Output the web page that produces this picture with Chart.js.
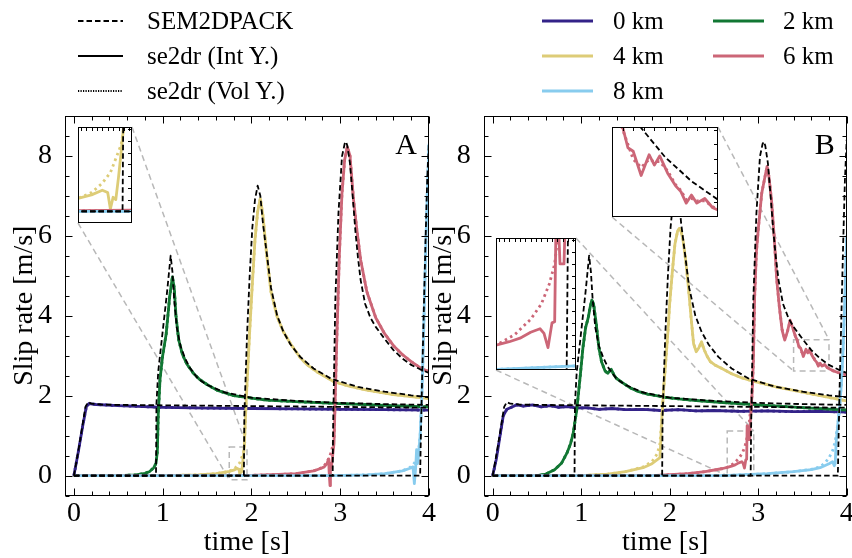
<!DOCTYPE html>
<html><head><meta charset="utf-8">
<script src="https://cdn.jsdelivr.net/npm/chart.js@4.4.1/dist/chart.umd.min.js"></script>
<style>
html,body{margin:0;padding:0;background:#fff;}
#fig{position:relative;width:852px;height:558px;overflow:hidden;background:#fff;font-family:"Liberation Serif",serif;}
.cv{position:absolute;}
.lg{position:absolute;line-height:28px;white-space:nowrap;color:#000;font-family:"Liberation Serif",serif;}
</style></head><body>
<div id="fig">
  <canvas id="mainA" class="cv" width="440" height="558" style="left:0;top:0"></canvas>
  <canvas id="mainB" class="cv" width="422" height="558" style="left:430px;top:0"></canvas>
  <canvas id="insA" class="cv" width="54" height="96" style="left:78px;top:127px"></canvas>
  <canvas id="insB1" class="cv" width="80" height="132" style="left:496px;top:238px"></canvas>
  <canvas id="insB2" class="cv" width="106" height="90" style="left:612px;top:127px"></canvas>
</div>
<script>
// ---------- labels / ticks ----------
const stationLabels = ['0 km','2 km','4 km','6 km','8 km'];
const stationColors = ['#332288','#117733','#DDCC77','#CC6677','#88CCEE'];
const methodLabels = ['SEM2DPACK','se2dr (Int Y.)','se2dr (Vol Y.)'];
const xTickLabels = [0,1,2,3,4];
const yTickLabels = [0,2,4,6,8];

// ---------- SEM2DPACK reference (same in both panels) ----------
const sem0_t = [0,0.05,0.1,0.13,0.16,0.2,0.3,0.5,1.0,1.5,2.0,2.5,3.0,3.5,4.0];
const sem0_v = [0,0.62,1.3,1.72,1.84,1.8,1.78,1.77,1.76,1.75,1.74,1.73,1.72,1.71,1.7];
const sem2_t = [0,0.925,0.93,0.95,1.0,1.05,1.09,1.11,1.13,1.16,1.2,1.25,1.3,1.4,1.5,1.7,2.0,2.5,3.0,3.5,4.0];
const sem2_v = [0,0,1.8,2.6,3.6,4.6,5.5,5.1,4.4,3.7,3.25,2.95,2.72,2.42,2.27,2.08,1.95,1.87,1.82,1.79,1.77];
const sem4_t = [0,1.915,1.92,1.95,1.98,2.01,2.04,2.07,2.1,2.13,2.17,2.22,2.29,2.36,2.44,2.55,2.7,2.9,3.2,3.5,3.8,4.0];
const sem4_v = [0,0,1.5,3.5,5.0,6.2,6.9,7.25,7.0,6.3,5.6,4.7,4.0,3.6,3.28,2.97,2.68,2.42,2.22,2.1,2.01,1.96];
const sem6_t = [0,2.915,2.92,2.945,2.98,3.02,3.05,3.066,3.08,3.11,3.14,3.17,3.2,3.23,3.28,3.34,3.4,3.5,3.6,3.7,3.8,3.9,4.0];
const sem6_v = [0,0,1.2,4.4,6.56,7.98,8.3,8.35,8.25,7.81,7.0,6.14,5.45,4.89,4.3,3.95,3.72,3.42,3.14,2.93,2.77,2.66,2.57];
const sem8_t = [0,3.9,3.905,3.92,3.94,3.96,3.98,4.0];
const sem8_v = [0,0,0.6,2.2,4.0,5.8,7.4,8.4];

// ---------- Panel A : se2dr ----------
const a0_t = [0,0.05,0.1,0.14,0.17,0.25,0.5,1.0,1.5,2.0,2.5,3.0,3.5,4.0];
const a0_v = [0,0.6,1.25,1.72,1.8,1.78,1.75,1.71,1.69,1.68,1.67,1.66,1.65,1.64];
const a2_t = [0,0.5,0.7,0.8,0.85,0.9,0.925,0.94,0.95,0.97,1.0,1.04,1.08,1.11,1.13,1.15,1.18,1.22,1.27,1.35,1.42,1.5,1.61,1.8,2.0,2.17,2.5,2.93,3.5,4.0];
const a2_v = [0,0,0.02,0.06,0.1,0.2,0.31,0.6,1.5,2.4,3.0,3.55,4.5,4.97,4.7,4.0,3.4,3.05,2.8,2.55,2.4,2.28,2.14,2.0,1.94,1.89,1.85,1.81,1.76,1.72];
const a4_t = [0,1.0,1.4,1.6,1.75,1.8,1.84,1.86,1.87,1.88,1.89,1.9,1.91,1.92,1.93,1.95,1.98,2.01,2.04,2.07,2.1,2.13,2.17,2.22,2.29,2.36,2.44,2.55,2.63,2.75,2.93,3.1,3.3,3.6,4.0];
const a4_v = [0,0,0.02,0.05,0.11,0.14,0.18,0.16,0.02,0.12,0.1,0.29,0.51,0.75,1.3,2.3,3.6,4.8,5.9,6.6,6.93,6.5,5.56,4.6,3.97,3.6,3.3,2.95,2.77,2.58,2.35,2.24,2.14,2.03,1.93];
const a4vol_t = [0,1.0,1.4,1.6,1.75,1.8,1.84,1.87,1.89,1.91,1.92,1.93,1.95,1.98,2.01,2.04,2.07,2.1,2.13,2.17,2.22,2.29,2.36,2.44,2.55,2.63,2.75,2.93,3.1,3.3,3.6,4.0];
const a4vol_v = [0,0,0.02,0.05,0.11,0.16,0.24,0.33,0.45,0.57,0.72,1.3,2.3,3.6,4.8,5.9,6.6,6.93,6.5,5.56,4.6,3.97,3.6,3.3,2.95,2.77,2.58,2.35,2.24,2.14,2.03,1.93];
const a6_t = [0,1.5,2.0,2.3,2.5,2.7,2.78,2.82,2.85,2.87,2.875,2.885,2.89,2.9,2.93,2.96,2.99,3.02,3.05,3.08,3.11,3.15,3.19,3.23,3.3,3.4,3.5,3.6,3.7,3.8,3.9,4.0];
const a6_v = [0,0,0.01,0.03,0.05,0.12,0.18,0.22,0.3,0.42,0.1,-0.25,0.3,0.2,0.8,3.3,5.5,7.06,7.9,8.22,8.0,6.9,6.1,5.4,4.6,3.95,3.55,3.25,3.03,2.85,2.7,2.6];
const a6vol_t = [0,1.5,2.0,2.3,2.5,2.7,2.78,2.82,2.85,2.88,2.9,2.93,2.96,2.99,3.02,3.05,3.08,3.11,3.15,3.19,3.23,3.3,3.4,3.5,3.6,3.7,3.8,3.9,4.0];
const a6vol_v = [0,0,0.01,0.03,0.05,0.12,0.19,0.25,0.34,0.48,0.6,0.9,3.3,5.5,7.06,7.9,8.22,8.0,6.9,6.1,5.4,4.6,3.95,3.55,3.25,3.03,2.85,2.7,2.6];
const a8_t = [0,2.9,3.3,3.5,3.7,3.78,3.82,3.835,3.85,3.86,3.87,3.88,3.9,3.92,3.94,3.96,3.98,4.0];
const a8_v = [0,0,0.02,0.05,0.12,0.18,0.22,-0.2,0.2,0.65,0.3,0.45,1.0,2.0,3.6,5.4,7.0,8.3];
const a8vol_t = [0,2.9,3.3,3.5,3.7,3.78,3.82,3.85,3.88,3.9,3.92,3.94,3.96,3.98,4.0];
const a8vol_v = [0,0,0.02,0.05,0.12,0.2,0.27,0.36,0.55,1.0,2.0,3.6,5.4,7.0,8.3];

// ---------- Panel B : se2dr ----------
const b0_t = [0,0.04,0.08,0.12,0.16,0.2,0.27,0.35,0.45,0.55,0.65,0.75,0.85,0.95,1.05,1.2,1.35,1.5,1.7,1.9,2.1,2.3,2.5,2.8,3.1,3.4,3.7,4.0];
const b0_v = [0,0.4,0.95,1.5,1.66,1.7,1.77,1.74,1.77,1.72,1.75,1.71,1.73,1.69,1.7,1.66,1.68,1.65,1.66,1.63,1.65,1.62,1.63,1.61,1.62,1.6,1.61,1.59];
const b2_t = [0,0.5,0.6,0.7,0.78,0.84,0.88,0.91,0.95,0.99,1.02,1.05,1.08,1.1,1.12,1.14,1.17,1.2,1.23,1.27,1.3,1.34,1.37,1.4,1.47,1.55,1.65,1.75,1.85,1.95,2.1,2.3,2.6,3.0,3.5,4.0];
const b2_v = [0,0,0.04,0.15,0.32,0.57,0.8,1.06,1.64,2.5,3.2,3.7,3.95,4.2,4.39,4.3,3.8,3.2,2.85,2.62,2.56,2.66,2.52,2.43,2.32,2.2,2.1,2.04,2.0,1.96,1.92,1.88,1.83,1.77,1.7,1.64];
const b4_t = [0,1.0,1.3,1.5,1.7,1.8,1.86,1.89,1.9,1.91,1.93,1.95,1.98,2.0,2.03,2.06,2.09,2.11,2.13,2.15,2.18,2.21,2.24,2.27,2.3,2.33,2.36,2.39,2.42,2.46,2.51,2.59,2.7,2.81,2.93,3.06,3.2,3.43,3.7,4.0];
const b4_v = [0,0,0.04,0.1,0.2,0.3,0.4,0.45,0.9,1.4,2.1,2.7,3.6,4.3,5.1,5.8,6.12,6.18,6.1,5.9,5.4,4.75,4.0,3.3,3.1,3.2,3.35,3.15,3.0,2.85,2.77,2.68,2.55,2.45,2.37,2.3,2.22,2.12,2.0,1.87];
const b4vol_t = [0,1.0,1.3,1.5,1.7,1.8,1.86,1.89,1.91,1.93,1.95,1.98,2.0,2.03,2.06,2.09,2.11,2.13,2.15,2.18,2.21,2.24,2.27,2.3,2.33,2.36,2.39,2.42,2.46,2.51,2.59,2.7,2.81,2.93,3.06,3.2,3.43,3.7,4.0];
const b4vol_v = [0,0,0.04,0.1,0.22,0.35,0.55,0.8,1.4,2.1,2.7,3.6,4.3,5.1,5.8,6.12,6.18,6.1,5.9,5.4,4.75,4.0,3.3,3.12,3.22,3.32,3.15,3.0,2.85,2.77,2.68,2.55,2.45,2.37,2.3,2.22,2.12,2.0,1.87];
const b6_t = [0,1.8,2.2,2.4,2.6,2.65,2.7,2.74,2.78,2.815,2.83,2.845,2.86,2.87,2.875,2.885,2.89,2.905,2.91,2.93,2.945,2.96,2.98,3.0,3.02,3.04,3.07,3.1,3.12,3.15,3.18,3.21,3.24,3.27,3.3,3.33,3.36,3.39,3.42,3.44,3.46,3.48,3.51,3.54,3.56,3.58,3.61,3.64,3.66,3.68,3.7,3.72,3.75,3.78,3.8,3.85,3.9,4.0];
const b6_v = [0,0,0.05,0.1,0.18,0.21,0.24,0.27,0.32,0.35,0.31,0.19,0.4,0.41,1.25,1.2,0.9,0.9,1.3,2.0,2.81,4.48,5.6,6.14,6.6,7.06,7.4,7.73,7.5,6.9,6.0,4.89,4.2,3.64,3.39,3.6,3.89,3.7,3.48,3.4,3.22,3.19,2.98,3.16,3.07,3.15,3.0,2.89,2.84,2.74,2.81,2.74,2.78,2.7,2.68,2.62,2.58,2.52];
const b6vol_t = [0,1.8,2.2,2.4,2.6,2.65,2.72,2.78,2.82,2.85,2.87,2.88,2.9,2.93,2.945,2.96,2.98,3.0,3.02,3.04,3.07,3.1,3.12,3.15,3.18,3.21,3.24,3.27,3.3,3.33,3.36,3.39,3.42,3.44,3.46,3.48,3.51,3.54,3.56,3.58,3.61,3.64,3.66,3.68,3.7,3.72,3.75,3.78,3.8,3.85,3.9,4.0];
const b6vol_v = [0,0,0.05,0.1,0.18,0.21,0.3,0.43,0.56,0.73,0.9,1.1,1.35,2.0,2.81,4.48,5.6,6.14,6.6,7.06,7.4,7.73,7.5,6.9,6.0,4.89,4.2,3.66,3.42,3.6,3.85,3.7,3.5,3.38,3.25,3.12,3.05,3.12,3.1,3.1,3.02,2.9,2.85,2.77,2.78,2.76,2.76,2.71,2.68,2.62,2.58,2.52];
const b8_t = [0,2.6,3.1,3.4,3.6,3.7,3.8,3.84,3.86,3.87,3.88,3.9,3.92,3.94,3.96,3.98,4.0];
const b8_v = [0,0,0.05,0.1,0.15,0.2,0.3,0.35,0.25,0.3,0.8,1.3,1.7,2.3,3.2,4.5,6.0];
const b8vol_t = [0,2.6,3.1,3.4,3.6,3.7,3.76,3.8,3.84,3.87,3.9,3.92,3.94,3.96,3.98,4.0];
const b8vol_v = [0,0,0.05,0.1,0.16,0.22,0.33,0.45,0.62,0.85,1.3,1.7,2.3,3.2,4.5,6.0];

// ---------- zoom windows of the insets ----------
const insetA_x = [1.75,1.95],  insetA_y = [-0.1,0.72];
const insetB1_x = [2.65,2.95], insetB1_y = [0,1.12];
const insetB2_x = [3.4,3.8],   insetB2_y = [2.62,3.4];

// ---------- helpers ----------
const FONT = '"Liberation Serif", serif';
const semT = [sem0_t,sem2_t,sem4_t,sem6_t,sem8_t], semV = [sem0_v,sem2_v,sem4_v,sem6_v,sem8_v];
const A = {intT:[a0_t,a2_t,a4_t,a6_t,a8_t], intV:[a0_v,a2_v,a4_v,a6_v,a8_v],
           volT:[a0_t,a2_t,a4vol_t,a6vol_t,a8vol_t], volV:[a0_v,a2_v,a4vol_v,a6vol_v,a8vol_v]};
const B = {intT:[b0_t,b2_t,b4_t,b6_t,b8_t], intV:[b0_v,b2_v,b4_v,b6_v,b8_v],
           volT:[b0_t,b2_t,b4vol_t,b6vol_t,b8vol_t], volV:[b0_v,b2_v,b4vol_v,b6vol_v,b8vol_v]};

function pts(t,v){ return t.map((x,i)=>({x:x,y:v[i]})); }
function buildDatasets(P){
  const ds=[];
  for(let k=0;k<5;k++){
    ds.push({data:pts(semT[k],semV[k]), borderColor:'#000', borderWidth:1.8, borderDash:[5.5,3], order:0});
    ds.push({data:pts(P.intT[k],P.intV[k]), borderColor:stationColors[k], borderWidth:2.8, order:10-k});
    ds.push({data:pts(P.volT[k],P.volV[k]), borderColor:stationColors[k], borderWidth:2.8, borderDash:[2.5,3.5], order:20-k});
  }
  return ds;
}
function steps(a,b,n){ const r=[]; for(let i=0;i<=n;i++){ r.push(Math.round((a+(b-a)*i/n)*1000)/1000); } return r; }
const xMinor = steps(0,4,20);
const yMinor = steps(-0.5,9,19);

const framePlugin = {
  id:'frame',
  beforeDatasetsDraw(chart, args, o){
    const {ctx, scales:{x,y}} = chart;
    ctx.save();
    ctx.strokeStyle='#b8b8b8'; ctx.lineWidth=1.5; ctx.setLineDash([6,4]);
    (o.insets||[]).forEach(ins=>{
      const x0=x.getPixelForValue(ins.xr[0]), x1=x.getPixelForValue(ins.xr[1]);
      const y0=y.getPixelForValue(ins.yr[0]), y1=y.getPixelForValue(ins.yr[1]);
      const el=document.getElementById(ins.id);
      const bx0=el.offsetLeft-o.offsetX, by0=el.offsetTop, bx1=bx0+el.width, by1=by0+el.height;
      ctx.strokeRect(x0,y1,x1-x0,y0-y1);
      ctx.beginPath();
      ctx.moveTo(bx1,by0); ctx.lineTo(x1,y1);
      ctx.moveTo(bx0,by1); ctx.lineTo(x0,y0);
      ctx.stroke();
    });
    ctx.restore();
  },
  afterDraw(chart, args, o){
    const {ctx, chartArea:a, scales:{x,y}} = chart;
    ctx.save();
    ctx.strokeStyle='#000'; ctx.lineWidth=1; ctx.setLineDash([]);
    const L=Math.round(a.left)+0.5, R=Math.round(a.right)-0.5, T=Math.round(a.top)+0.5, Bt=Math.round(a.bottom)-0.5;
    ctx.strokeRect(L,T,R-L,Bt-T);
    ctx.beginPath();
    x.ticks.forEach(t=>{
      const p=Math.round(x.getPixelForValue(t.value))+0.5;
      const len = xTickLabels.includes(t.value)?7:4;
      ctx.moveTo(p,Bt); ctx.lineTo(p,Bt-len); ctx.moveTo(p,T); ctx.lineTo(p,T+len);
    });
    y.ticks.forEach(t=>{
      const p=Math.round(y.getPixelForValue(t.value))+0.5;
      const len = yTickLabels.includes(t.value)?7:4;
      ctx.moveTo(L,p); ctx.lineTo(L+len,p); ctx.moveTo(R,p); ctx.lineTo(R-len,p);
    });
    ctx.stroke();
    ctx.fillStyle='#000'; ctx.font='30px '+FONT; ctx.textAlign='right'; ctx.textBaseline='alphabetic';
    ctx.fillText(o.letter, a.right-12, a.top+38);
    ctx.restore();
  }
};

function mainChart(id, P, yAxisW, padRight, titlePad, offsetX, insets, letter){
  return new Chart(document.getElementById(id), {
    type:'line',
    data:{datasets:buildDatasets(P)},
    options:{
      responsive:false, animation:false, events:[],
      layout:{padding:{top:115.7,right:padRight,left:0,bottom:0}},
      elements:{point:{radius:0}, line:{tension:0, fill:false, borderJoinStyle:'round', borderCapStyle:'butt'}},
      plugins:{legend:{display:false}, tooltip:{enabled:false}, frame:{insets:insets, offsetX:offsetX, letter:letter}},
      scales:{
        x:{type:'linear', min:-0.1, max:4, grid:{display:false}, border:{display:false},
           afterBuildTicks:s=>{ s.ticks = xMinor.map(v=>({value:v})); },
           afterFit:s=>{ s.height = 62.3; },
           ticks:{autoSkip:false, maxRotation:0, padding:-4, color:'#000', font:{family:FONT,size:28,lineHeight:1},
                  callback:v=> xTickLabels.includes(v)?String(v):''},
           title:{display:true, text:'time [s]', color:'#000', font:{family:FONT,size:28,lineHeight:1}, padding:{top:0,bottom:1}}},
        y:{type:'linear', min:-0.5, max:9, grid:{display:false}, border:{display:false},
           afterBuildTicks:s=>{ s.ticks = yMinor.map(v=>({value:v})); },
           afterFit:s=>{ s.width = yAxisW; },
           ticks:{autoSkip:false, padding:5, color:'#000', font:{family:FONT,size:28,lineHeight:1},
                  callback:v=> yTickLabels.includes(v)?String(v):''},
           title:{display:true, text:'Slip rate [m/s]', color:'#000', font:{family:FONT,size:28,lineHeight:1}, padding:{top:titlePad,bottom:0}}}
      }
    },
    plugins:[framePlugin]
  });
}

const insetPlugin = {
  id:'insetFrame',
  beforeDraw(chart){ const c=chart.ctx; c.save(); c.fillStyle='#fff'; c.fillRect(0,0,chart.width,chart.height); c.restore(); },
  afterDraw(chart, args, o){
    const {ctx, scales:{x,y}} = chart, w=chart.width, h=chart.height;
    ctx.save(); ctx.strokeStyle='#000'; ctx.lineWidth=1; ctx.setLineDash([]);
    ctx.strokeRect(0.5,0.5,w-1,h-1);
    ctx.beginPath();
    o.xt.forEach(v=>{ const p=Math.round(x.getPixelForValue(v))+0.5; ctx.moveTo(p,0); ctx.lineTo(p,4); });
    o.yt.forEach(v=>{ const p=Math.round(y.getPixelForValue(v))+0.5; ctx.moveTo(w,p); ctx.lineTo(w-4,p); });
    ctx.stroke(); ctx.restore();
  }
};
function insetChart(id, P, xr, yr, xs, ys){
  const xt=[], yt=[];
  for(let v=Math.ceil(xr[0]/xs)*xs; v<xr[1]; v+=xs) xt.push(v);
  for(let v=Math.ceil(yr[0]/ys)*ys; v<yr[1]; v+=ys) yt.push(v);
  return new Chart(document.getElementById(id), {
    type:'line',
    data:{datasets:buildDatasets(P)},
    options:{
      responsive:false, animation:false, events:[],
      layout:{padding:0},
      elements:{point:{radius:0}, line:{tension:0, fill:false, borderJoinStyle:'round'}},
      plugins:{legend:{display:false}, tooltip:{enabled:false}, insetFrame:{xt:xt, yt:yt}},
      scales:{x:{type:'linear', display:false, min:xr[0], max:xr[1]}, y:{type:'linear', display:false, min:yr[0], max:yr[1]}}
    },
    plugins:[insetPlugin]
  });
}

mainChart('mainA', A, 65, 11, 11, 0, [{id:'insA', xr:insetA_x, yr:insetA_y}], 'A');
mainChart('mainB', B, 53.8, 5.3, 0, 430, [{id:'insB1', xr:insetB1_x, yr:insetB1_y},{id:'insB2', xr:insetB2_x, yr:insetB2_y}], 'B');
insetChart('insA', A, insetA_x, insetA_y, 0.02, 0.1);
insetChart('insB1', B, insetB1_x, insetB1_y, 0.02, 0.1);
insetChart('insB2', B, insetB2_x, insetB2_y, 0.04, 0.125);

// ---------- legends ----------
const fig = document.getElementById('fig');
const NS='http://www.w3.org/2000/svg';
function addLine(x1,x2,yc,color,width,dash){
  const s=document.createElementNS(NS,'svg');
  s.setAttribute('width',x2-x1); s.setAttribute('height',10);
  s.style.cssText='position:absolute;left:'+x1+'px;top:'+(yc-5)+'px;';
  const l=document.createElementNS(NS,'line');
  l.setAttribute('x1',0); l.setAttribute('x2',x2-x1); l.setAttribute('y1',5); l.setAttribute('y2',5);
  l.setAttribute('stroke',color); l.setAttribute('stroke-width',width);
  if(dash) l.setAttribute('stroke-dasharray',dash.join(' '));
  s.appendChild(l); fig.appendChild(s);
}
function addText(x,yc,txt,size){
  const d=document.createElement('div'); d.className='lg';
  d.style.left=x+'px'; d.style.top=(yc-14)+'px'; d.style.fontSize=size+'px';
  d.textContent=txt; fig.appendChild(d);
}
const rowY=[21,56,91];
const methodStyle=[{w:1.8,d:[5.5,3]},{w:2.2,d:null},{w:1.8,d:[1.2,1.3]}];
methodLabels.forEach((lab,i)=>{ addLine(78,123,rowY[i],'#000',methodStyle[i].w,methodStyle[i].d); addText(147,rowY[i],lab,25); });
stationLabels.forEach((lab,k)=>{
  const r=Math.floor(k/2), c=k%2;
  const lx=[542,713][c], tx=[613,783][c];
  addLine(lx,lx+51,rowY[r],stationColors[k],3,null);
  addText(tx,rowY[r],lab,25);
});
</script>
</body></html>
